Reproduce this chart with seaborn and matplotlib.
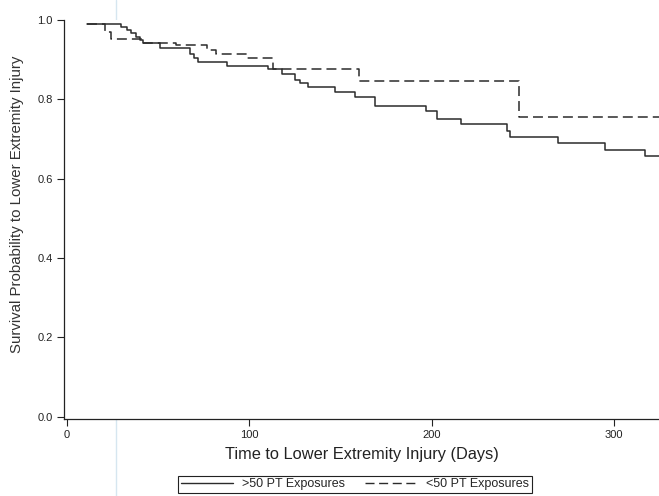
import numpy as np
import pandas as pd
from matplotlib import pyplot as plt
from matplotlib.lines import Line2D
import seaborn as sns

# Kaplan-Meier step values (days, survival)
days_gt50 = [11, 30, 33, 35, 38, 40, 42, 51, 67.6, 69.5, 72, 88, 110, 118, 125, 128, 132,
             147, 158, 169, 197, 203, 216, 241, 243, 269, 295, 317, 330]
surv_gt50 = [0.989, 0.982, 0.975, 0.966, 0.958, 0.950, 0.943, 0.929, 0.915, 0.905, 0.895,
             0.885, 0.876, 0.864, 0.849, 0.840, 0.830, 0.819, 0.805, 0.782, 0.771, 0.751,
             0.738, 0.719, 0.706, 0.691, 0.673, 0.658, 0.658]

days_lt50 = [11, 21, 24, 41, 60, 77, 82, 98.6, 113, 160, 248, 330]
surv_lt50 = [0.989, 0.970, 0.951, 0.941, 0.937, 0.924, 0.914, 0.903, 0.876, 0.847, 0.755, 0.755]

group_names = ['>50 PT Exposures', '<50 PT Exposures']
x_ticks = [0, 100, 200, 300]
y_ticks = [0.0, 0.2, 0.4, 0.6, 0.8, 1.0]

df = pd.concat([
    pd.DataFrame({'days': days_gt50, 'surv': surv_gt50, 'group': group_names[0]}),
    pd.DataFrame({'days': days_lt50, 'surv': surv_lt50, 'group': group_names[1]}),
])

sns.set_theme(style='ticks')
plt.rcParams['font.family'] = ['Liberation Sans', 'DejaVu Sans']

fig = plt.figure(figsize=(6.59, 4.96), dpi=100)
ax = fig.add_axes([64 / 659, 1 - 419 / 496, 1 - 64 / 659, (419 - 20) / 496])

line_col = '#2b2b2b'
dash_map = {group_names[0]: '', group_names[1]: (6.5, 3.3)}
sns.lineplot(data=df, x='days', y='surv', style='group', dashes=dash_map,
             estimator=None, sort=False, drawstyle='steps-post',
             color=line_col, linewidth=1.1, legend=False, ax=ax)

ax.set_xlim(-1.5, 324.5)
ax.set_ylim(-0.006, 1.0)
ax.set_xticks(x_ticks)
ax.set_yticks(y_ticks)
ax.set_yticklabels([f'{v:.1f}' for v in y_ticks])
ax.tick_params(axis='both', direction='out', length=5, width=0.8, labelsize=8,
               colors='#222222', pad=3)
ax.set_xlabel('')
ax.set_ylabel('')
for side in ['top', 'right']:
    ax.spines[side].set_visible(False)
for side in ['left', 'bottom']:
    ax.spines[side].set_linewidth(0.9)
    ax.spines[side].set_color('#222222')

fig.text(362 / 659, 1 - 454 / 496, 'Time to Lower Extremity Injury (Days)',
         ha='center', va='center', fontsize=11.8, color='#222222')
fig.text(17 / 659, 1 - 204 / 496, 'Survival Probability to Lower Extremity Injury',
         ha='center', va='center', rotation=90, fontsize=10.8, color='#333333')

handles = [Line2D([], [], color=line_col, linewidth=1.0),
           Line2D([], [], color=line_col, linewidth=1.0, dashes=(6.5, 3.3))]
leg = fig.legend(handles, group_names, loc='center', bbox_to_anchor=(355 / 659, 1 - 484 / 496),
                 ncol=2, fontsize=9, frameon=True, fancybox=False, framealpha=1,
                 edgecolor='#222222', handlelength=4.2, borderpad=0.2, columnspacing=1.6,
                 handletextpad=0.7)
leg.get_frame().set_linewidth(0.8)

# faint vertical scan streak seen in the source
scan_x = 116 / 659
fig.add_artist(Line2D([scan_x, scan_x], [0, 1], transform=fig.transFigure,
                      color='#d6e6f0', linewidth=1.0, zorder=0))

fig.savefig('out.png', dpi=100)
